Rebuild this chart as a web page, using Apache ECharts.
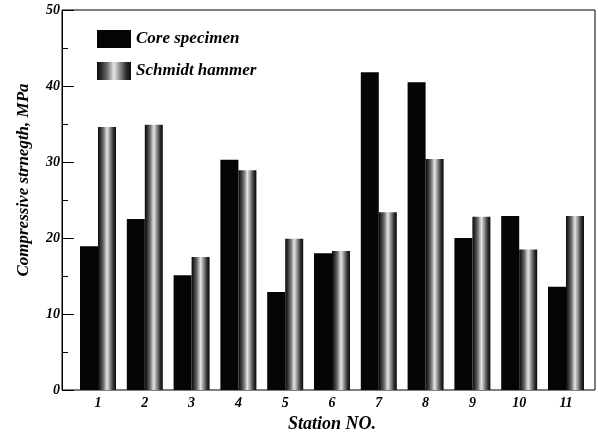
<!DOCTYPE html>
<html>
<head>
<meta charset="utf-8">
<script src="https://cdn.jsdelivr.net/npm/echarts@6/dist/echarts.min.js"></script>
<style>
html,body{margin:0;padding:0;background:#fff;}
#chart{width:598px;height:432px;}
</style>
</head>
<body>
<div id="chart"></div>
<script>
var stations = ['1','2','3','4','5','6','7','8','9','10','11'];
var coreSpecimen = [18.9, 22.5, 15.1, 30.3, 12.9, 18.0, 41.8, 40.5, 20.0, 22.9, 13.6];
var schmidtHammer = [34.6, 34.9, 17.5, 28.9, 19.9, 18.3, 23.4, 30.4, 22.8, 18.5, 22.9];
var seriesNames = ['Core specimen', 'Schmidt hammer'];
var yTitle = 'Compressive strnegth, MPa';
var xTitle = 'Station NO.';

var FONT = '"Liberation Serif", "DejaVu Serif", serif';
var chart = echarts.init(document.getElementById('chart'), null, {renderer: 'canvas'});

var hammerColor = new echarts.graphic.LinearGradient(0, 0, 1, 0, [
  {offset: 0, color: '#0a0a0a'},
  {offset: 0.12, color: '#2a2a2a'},
  {offset: 0.3, color: '#6e6e6e'},
  {offset: 0.5, color: '#e6e6e6'},
  {offset: 0.7, color: '#7e7e7e'},
  {offset: 0.86, color: '#2e2e2e'},
  {offset: 1, color: '#0a0a0a'}
]);

chart.setOption({
  animation: false,
  backgroundColor: '#fff',
  textStyle: {fontFamily: FONT},
  grid: [
    {left: 62, right: 3, top: 10, bottom: 42, outerBoundsMode: 'none', containLabel: false,
     show: true, borderColor: '#000', borderWidth: 1, backgroundColor: 'transparent'},
    {left: 74.6, right: 8.6, top: 10, bottom: 42, outerBoundsMode: 'none', containLabel: false}
  ],
  legend: {
    data: seriesNames,
    orient: 'vertical',
    left: 92,
    top: 25,
    itemWidth: 34,
    itemHeight: 18,
    itemGap: 14,
    icon: 'rect',
    textStyle: {fontFamily: FONT, fontSize: 17, fontWeight: 'bold', fontStyle: 'italic', color: '#000'}
  },
  xAxis: [
    {type: 'value', gridIndex: 0, min: 0, max: 1, show: false},
    {
      type: 'category', gridIndex: 1, data: stations,
      axisLine: {show: false}, axisTick: {show: false},
      axisLabel: {fontFamily: FONT, fontSize: 14, fontWeight: 'bold', fontStyle: 'italic', color: '#000', margin: 6},
      name: xTitle, nameLocation: 'middle', nameGap: 12,
      nameTextStyle: {fontFamily: FONT, fontSize: 18, fontWeight: 'bold', fontStyle: 'italic', color: '#000', verticalAlign: 'middle'}
    }
  ],
  yAxis: [
    {
      type: 'value', gridIndex: 0, min: 0, max: 50, interval: 10,
      axisLine: {show: true, lineStyle: {color: '#000', width: 1}},
      axisTick: {show: true, inside: true, length: 12, lineStyle: {color: '#000'}},
      minorTick: {show: true, splitNumber: 2, length: 6, lineStyle: {color: '#000'}},
      splitLine: {show: false},
      axisLabel: {fontFamily: FONT, fontSize: 14, fontWeight: 'bold', fontStyle: 'italic', color: '#000', margin: 2},
      name: yTitle, nameLocation: 'middle', nameGap: 30, nameRotate: 90,
      nameTextStyle: {fontFamily: FONT, fontSize: 17, fontWeight: 'bold', fontStyle: 'italic', color: '#000', padding: [0, 0, 0, 40]}
    },
    {type: 'value', gridIndex: 1, min: 0, max: 50, show: false}
  ],
  series: [
    {
      name: seriesNames[0], type: 'bar', xAxisIndex: 1, yAxisIndex: 1,
      data: coreSpecimen, barWidth: 18, barGap: '0%',
      itemStyle: {color: '#050505'}
    },
    {
      name: seriesNames[1], type: 'bar', xAxisIndex: 1, yAxisIndex: 1,
      data: schmidtHammer, barWidth: 18, barGap: '0%',
      itemStyle: {color: hammerColor}
    }
  ]
});
</script>
</body>
</html>
